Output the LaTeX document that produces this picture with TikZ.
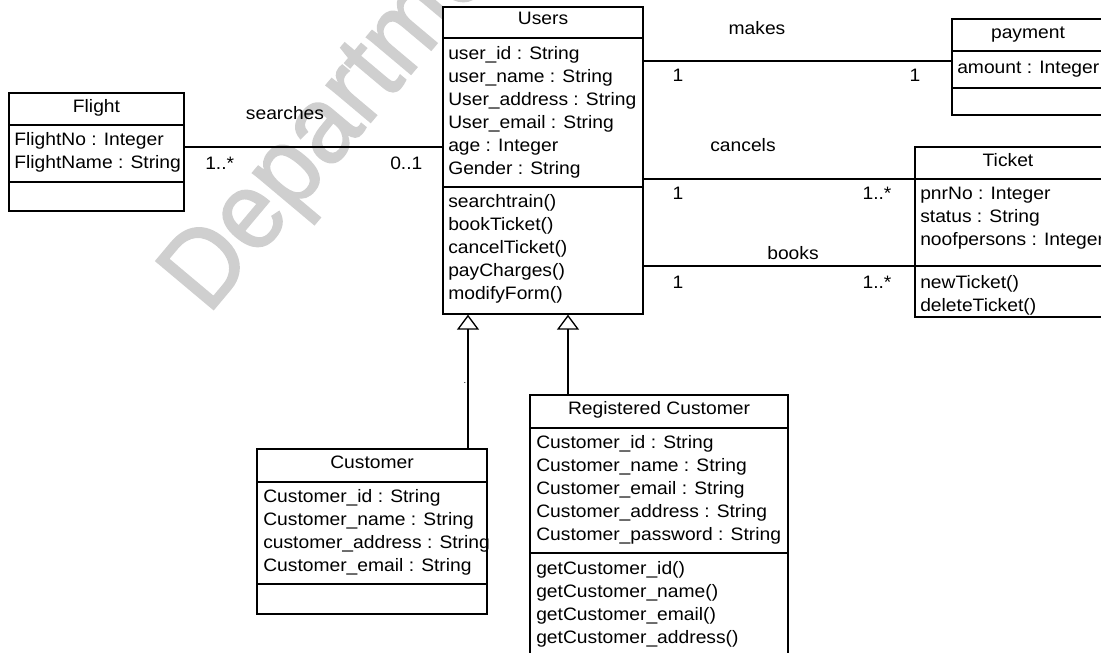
\documentclass[tikz,border=0pt]{standalone}
\usepackage{fontspec}
\setmainfont{Liberation Sans}
\newfontfamily\umlfont[FakeStretch=1.07]{Liberation Sans}
\newfontfamily\wmfont[FakeStretch=0.94,FakeBold=1.5]{Liberation Sans}
\usetikzlibrary{fit,arrows.meta}

\tikzset{
  umlbox/.style={draw, fill=white, line width=1pt, inner sep=0pt},
  sepline/.style={line width=1pt},
  assoc/.style={line width=1pt},
  genarrow/.style={line width=1pt, -{Triangle[open,length=11.25pt,width=16.5pt]}},
  txt/.style={anchor=base west, inner sep=0pt, font=\umlfont\fontsize{13.5pt}{16pt}\selectfont},
  ttl/.style={anchor=base, inner sep=0pt, font=\umlfont\fontsize{13.5pt}{16pt}\selectfont},
  lbl/.style={anchor=base, inner sep=0pt, font=\umlfont\fontsize{13.5pt}{16pt}\selectfont},
  wmark/.style={anchor=base west, inner sep=0pt, text=black!19, font=\wmfont\fontsize{82pt}{86pt}\selectfont}
}

\begin{document}
\begin{tikzpicture}[x=0.75pt,y=-0.75pt]
\useasboundingbox (0,0) rectangle (1101,653);
\clip (0,0) rectangle (1101,653);

% background watermark
\node[wmark, rotate=50] (wm) at (208,316) {Department};

% ---------- class boxes ----------
\node[umlbox, fit={(9,93) (184,211)}] (flight) {};
\node[umlbox, fit={(443,7) (643,314)}] (users) {};
\node[umlbox, fit={(952,19) (1106,115)}] (payment) {};
\node[umlbox, fit={(915,147) (1106,317)}] (ticket) {};
\node[umlbox, fit={(257,449) (487,614)}] (cust) {};
\node[umlbox, fit={(530,395) (788,680)}] (reg) {};

% compartment separators
\draw[sepline] (flight.west |- 0,125) -- (flight.east |- 0,125);
\draw[sepline] (flight.west |- 0,182) -- (flight.east |- 0,182);
\draw[sepline] (users.west |- 0,38) -- (users.east |- 0,38);
\draw[sepline] (users.west |- 0,187) -- (users.east |- 0,187);
\draw[sepline] (payment.west |- 0,51) -- (payment.east |- 0,51);
\draw[sepline] (payment.west |- 0,88) -- (payment.east |- 0,88);
\draw[sepline] (ticket.west |- 0,179) -- (ticket.east |- 0,179);
\draw[sepline] (ticket.west |- 0,266) -- (ticket.east |- 0,266);
\draw[sepline] (cust.west |- 0,482) -- (cust.east |- 0,482);
\draw[sepline] (cust.west |- 0,584) -- (cust.east |- 0,584);
\draw[sepline] (reg.west |- 0,428) -- (reg.east |- 0,428);
\draw[sepline] (reg.west |- 0,553) -- (reg.east |- 0,553);

% ---------- class contents ----------
\node[ttl] (flight-t) at (96.5,112) {Flight};
\foreach \t [count=\i] in {FlightNo : Integer, FlightName : String}
  \node[txt] (flight-a\i) at (14,{122+23*\i}) {\t};

\node[ttl] (users-t) at (543,25) {Users};
\foreach \t [count=\i] in {user\_id : String, user\_name : String, User\_address : String,
    User\_email : String, age : Integer, Gender : String}
  \node[txt] (users-a\i) at (448,{36+23*\i}) {\t};
\foreach \t [count=\i] in {searchtrain(), bookTicket(), cancelTicket(), payCharges(), modifyForm()}
  \node[txt] (users-m\i) at (448,{184+23*\i}) {\t};

\node[ttl] (payment-t) at (1028,38) {payment};
\node[txt] (payment-a1) at (957,73) {amount : Integer};

\node[ttl] (ticket-t) at (1008,166) {Ticket};
\foreach \t [count=\i] in {pnrNo : Integer, status : String, noofpersons : Integer}
  \node[txt] (ticket-a\i) at (920,{176+23*\i}) {\t};
\foreach \t [count=\i] in {newTicket(), deleteTicket()}
  \node[txt] (ticket-m\i) at (920,{265+23*\i}) {\t};

\node[ttl] (cust-t) at (372,468) {Customer};
\foreach \t [count=\i] in {Customer\_id : String, Customer\_name : String,
    customer\_address : String, Customer\_email : String}
  \node[txt] (cust-a\i) at (263,{479+23*\i}) {\t};

\node[ttl] (reg-t) at (659,414) {Registered Customer};
\foreach \t [count=\i] in {Customer\_id : String, Customer\_name : String, Customer\_email : String,
    Customer\_address : String, Customer\_password : String}
  \node[txt] (reg-a\i) at (536,{425+23*\i}) {\t};
\foreach \t [count=\i] in {getCustomer\_id(), getCustomer\_name(), getCustomer\_email(),
    getCustomer\_address()}
  \node[txt] (reg-m\i) at (536,{551+23*\i}) {\t};

% ---------- associations ----------
\draw[assoc] (flight.east |- 0,147) -- (users.west |- 0,147);
\node[lbl] (l-searches) at (285,119) {searches};
\node[txt] (m-search1) at (205,169) {1..*};
\node[txt] (m-search2) at (390,169) {0..1};

\draw[assoc] (users.east |- 0,61) -- (payment.west |- 0,61);
\node[lbl] (l-makes) at (757,34) {makes};
\node[lbl] (m-makes1) at (678,81) {1};
\node[lbl] (m-makes2) at (915,81) {1};

\draw[assoc] (users.east |- 0,179) -- (ticket.west |- 0,179);
\node[lbl] (l-cancels) at (743,151) {cancels};
\node[lbl] (m-cancel1) at (678,199) {1};
\node[lbl] (m-cancel2) at (877,199) {1..*};

\draw[assoc] (users.east |- 0,266) -- (ticket.west |- 0,266);
\node[lbl] (l-books) at (793,259) {books};
\node[lbl] (m-books1) at (678,288) {1};
\node[lbl] (m-books2) at (877,288) {1..*};

% ---------- generalizations ----------
\coordinate (g1) at (users.south -| 468,0);
\coordinate (g2) at (users.south -| 568,0);
\draw[genarrow] (cust.north -| g1) -- (g1);
\draw[genarrow] (reg.north -| g2) -- (g2);
\node[anchor=base, inner sep=0pt, font=\fontsize{7pt}{8pt}\selectfont] (dot) at (465,383) {.};

\end{tikzpicture}
\end{document}
